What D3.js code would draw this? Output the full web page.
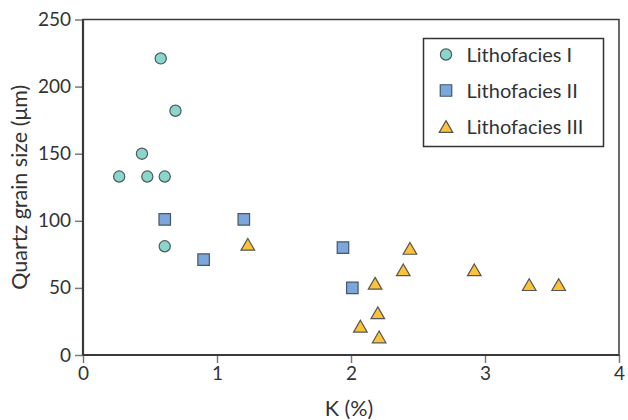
<!DOCTYPE html>
<html>
<head>
<meta charset="utf-8">
<script src="https://cdn.jsdelivr.net/npm/d3@7"></script>
<style>
	body { margin: 0; background: #fff; }
	svg text { font-family: Lato, "Open Sans", sans-serif; fill: #333; }
</style>
</head>
<body>
<div id="chart"></div>
<script>
// K (%) and quartz grain size (um) for each lithofacies
var litho1K    = [0.58, 0.69, 0.44, 0.27, 0.48, 0.61, 0.61];
var litho1Size = [221, 182, 150, 133, 133, 133, 81];
var litho2K    = [0.61, 1.20, 0.90, 1.94, 2.01];
var litho2Size = [101, 101, 71, 80, 50];
var litho3K    = [1.23, 2.44, 2.39, 2.18, 2.20, 2.07, 2.21, 2.92, 3.33, 3.55];
var litho3Size = [81, 78, 62, 52, 30, 20, 12, 62, 51, 51];
var seriesNames = ["Lithofacies I", "Lithofacies II", "Lithofacies III"];
var xTicks = [0, 1, 2, 3, 4];
var yTicks = [0, 50, 100, 150, 200, 250];

var WIDTH = 628, HEIGHT = 420;
var margin = {top: 19.5, right: 9, bottom: 65, left: 83};
var w = WIDTH - margin.left - margin.right;
var h = HEIGHT - margin.top - margin.bottom;

var series = [
	{name: seriesNames[0], k: litho1K, size: litho1Size, shape: d3.symbolCircle, area: Math.PI*5.6*5.6, fill: "#8ad5cc", stroke: "#4d5a5a"},
	{name: seriesNames[1], k: litho2K, size: litho2Size, shape: d3.symbolSquare, area: 11.5*11.5, fill: "#7ba7dc", stroke: "#46566c"},
	{name: seriesNames[2], k: litho3K, size: litho3Size, shape: d3.symbolTriangle, area: 80, fill: "#fdc236", stroke: "#555"}
];

var svg = d3.select('#chart').append('svg')
	.attr('width', WIDTH).attr('height', HEIGHT);
var g = svg.append('g').attr('transform', 'translate(' + margin.left + ',' + margin.top + ')');

var x = d3.scaleLinear().domain([0, 4]).range([0, w]);
var y = d3.scaleLinear().domain([0, 250]).range([h, 0]);

// axes
var xAxis = g.append('g').attr('transform', 'translate(0,' + h + ')')
	.call(d3.axisBottom(x).tickValues(xTicks).tickSize(8).tickPadding(4).tickFormat(d3.format('d')));
var yAxis = g.append('g')
	.call(d3.axisLeft(y).tickValues(yTicks).tickSize(8).tickPadding(4));
[xAxis, yAxis].forEach(function(a) {
	a.select('.domain').remove();
	a.selectAll('.tick line').attr('stroke', '#7a7a7a').attr('stroke-width', 1.5);
	a.selectAll('.tick text').attr('font-size', 19).style('fill', '#333');
});

// frame
g.append('rect').attr('x', 0).attr('y', 0).attr('width', w).attr('height', h)
	.attr('fill', 'none').attr('stroke', '#3a3a3a').attr('stroke-width', 1.5);
g.append('line').attr('x1', 0).attr('x2', w).attr('y1', h).attr('y2', h)
	.attr('stroke', '#3a3a3a').attr('stroke-width', 2.2);
g.append('line').attr('x1', 0).attr('x2', 0).attr('y1', 0).attr('y2', h)
	.attr('stroke', '#3a3a3a').attr('stroke-width', 2.2);

// axis titles
svg.append('text').attr('x', margin.left + w/2 - 2).attr('y', 416)
	.attr('text-anchor', 'middle').attr('font-size', 21.5).text('K (%)');
svg.append('text').attr('transform', 'translate(27,' + (margin.top + h/2) + ') rotate(-90)')
	.attr('text-anchor', 'middle').attr('font-size', 21.5).text('Quartz grain size (\u03bcm)');

// points
series.forEach(function(s) {
	var sym = d3.symbol().type(s.shape).size(s.area);
	g.append('g').selectAll('path').data(s.k.map(function(k, i) { return [k, s.size[i]]; }))
		.enter().append('path')
		.attr('d', sym)
		.attr('transform', function(d) { return 'translate(' + x(d[0]) + ',' + y(d[1]) + ')'; })
		.attr('fill', s.fill).attr('stroke', s.stroke).attr('stroke-width', 1.2);
});

// legend
var legend = svg.append('g').attr('transform', 'translate(423.5,38.5)');
legend.append('rect').attr('width', 180).attr('height', 108)
	.attr('fill', '#fff').attr('stroke', '#333').attr('stroke-width', 1.5);
series.forEach(function(s, i) {
	var row = legend.append('g').attr('transform', 'translate(0,' + (16 + i*36) + ')');
	row.append('path').attr('d', d3.symbol().type(s.shape).size(s.area)())
		.attr('transform', 'translate(22.5,' + (i == 2 ? 2 : 0) + ')')
		.attr('fill', s.fill).attr('stroke', s.stroke).attr('stroke-width', 1.2);
	row.append('text').attr('x', 43).attr('y', 0).attr('dy', '0.35em')
		.attr('font-size', 20).text(s.name);
});
</script>
</body>
</html>
